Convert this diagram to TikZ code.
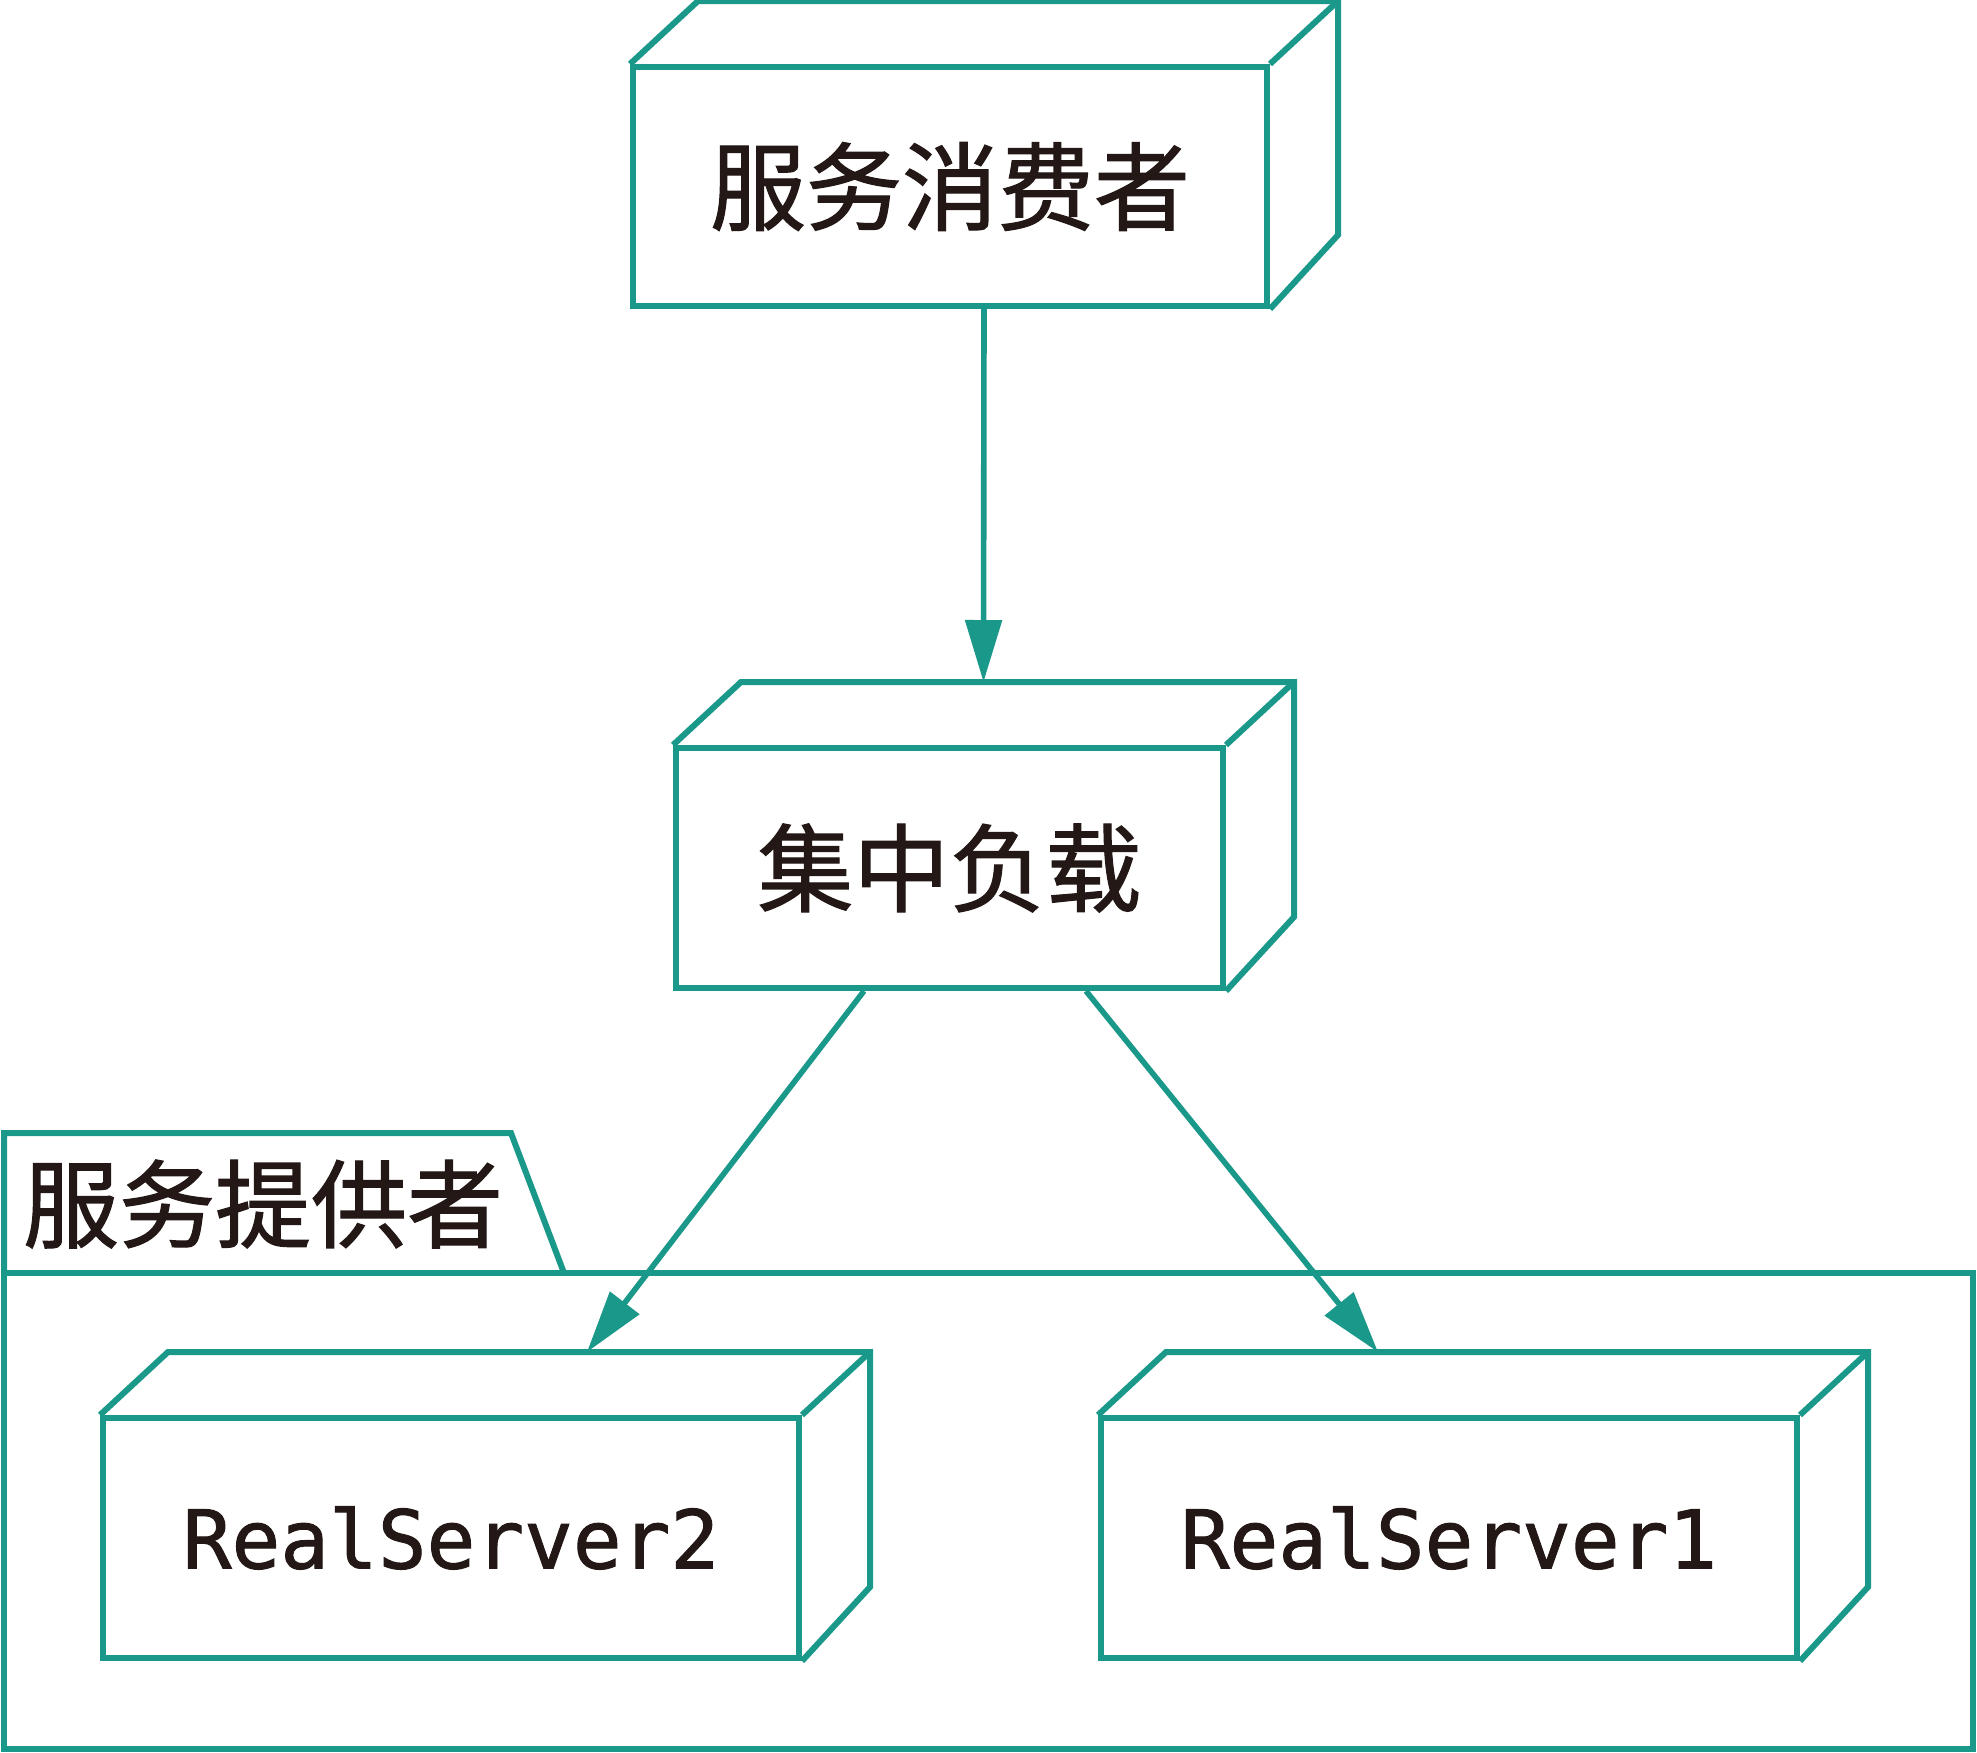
\documentclass[tikz,border=0pt]{standalone}
\usepackage{fontspec}
\newfontfamily\cjk[FakeBold=1.2]{Noto Sans CJK SC}
\newfontfamily\monofont[FakeBold=1.2]{DejaVu Sans Mono}
\usetikzlibrary{arrows.meta}
\definecolor{nodeteal}{RGB}{26,152,138}
\definecolor{inkblack}{RGB}{35,24,21}
\tikzstyle{block} = [rectangle, draw=nodeteal, line width=3pt, fill=white,
    inner sep=0pt, text=inkblack, minimum height=120pt]
\tikzstyle{line} = [draw=nodeteal, line width=2.8pt, -{Triangle[length=31pt,width=18pt]}]
\tikzstyle{depth} = [draw=nodeteal, line width=3pt]
\tikzstyle{cjktext} = [font=\cjk\fontsize{48}{56}\selectfont]
\tikzstyle{monotext} = [font=\monofont\fontsize{40.5}{48}\selectfont]
% back faces of a 3d box
\newcommand{\boxback}[1]{%
  \draw[depth] (#1.north west) -- ++(34pt,31.5pt) -- ([shift={(34pt,31.5pt)}]#1.north east)
    -- ([shift={(34pt,37pt)}]#1.south east) -- (#1.south east);
  \draw[depth] (#1.north east) -- ++(34pt,31.5pt);}

\begin{document}
\begin{tikzpicture}[x=0.5pt, y=-0.5pt]
        \useasboundingbox (0,0) rectangle (1977,1752);

        % Package
        \draw[depth, fill=white] (4,1273) rectangle (1973,1749);
        \draw[depth] (4,1273) -- (4,1133) -- (511,1133) -- (564,1273);
        \node [cjktext, anchor=west, text=inkblack] (pkglabel) at (16,1204) {服务提供者};

        % Place nodes
        \node [block, cjktext, minimum width=317pt, minimum height=119.5pt] (consumer) at (950,186.5) {服务消费者};
        \node [block, cjktext, minimum width=273.5pt] (balancer) at (949.5,868) {集中负载};
        \node [block, monotext, minimum width=348pt] (rs2) at (451,1538) {RealServer2};
        \node [block, monotext, minimum width=348pt] (rs1) at (1449,1538) {RealServer1};
        \boxback{consumer}
        \boxback{balancer}
        \boxback{rs2}
        \boxback{rs1}

        % Draw edges
        \path [line] ([xshift=17pt]consumer.south) -- ([shift={(17pt,31.5pt)}]balancer.north);
        \path [line] ([xshift=95.5pt]balancer.south west) -- ([shift={(243.5pt,31.5pt)}]rs2.north west);
        \path [line] ([xshift=206.5pt]balancer.south west) -- ([shift={(140pt,31.5pt)}]rs1.north west);

    \end{tikzpicture}
\end{document}
